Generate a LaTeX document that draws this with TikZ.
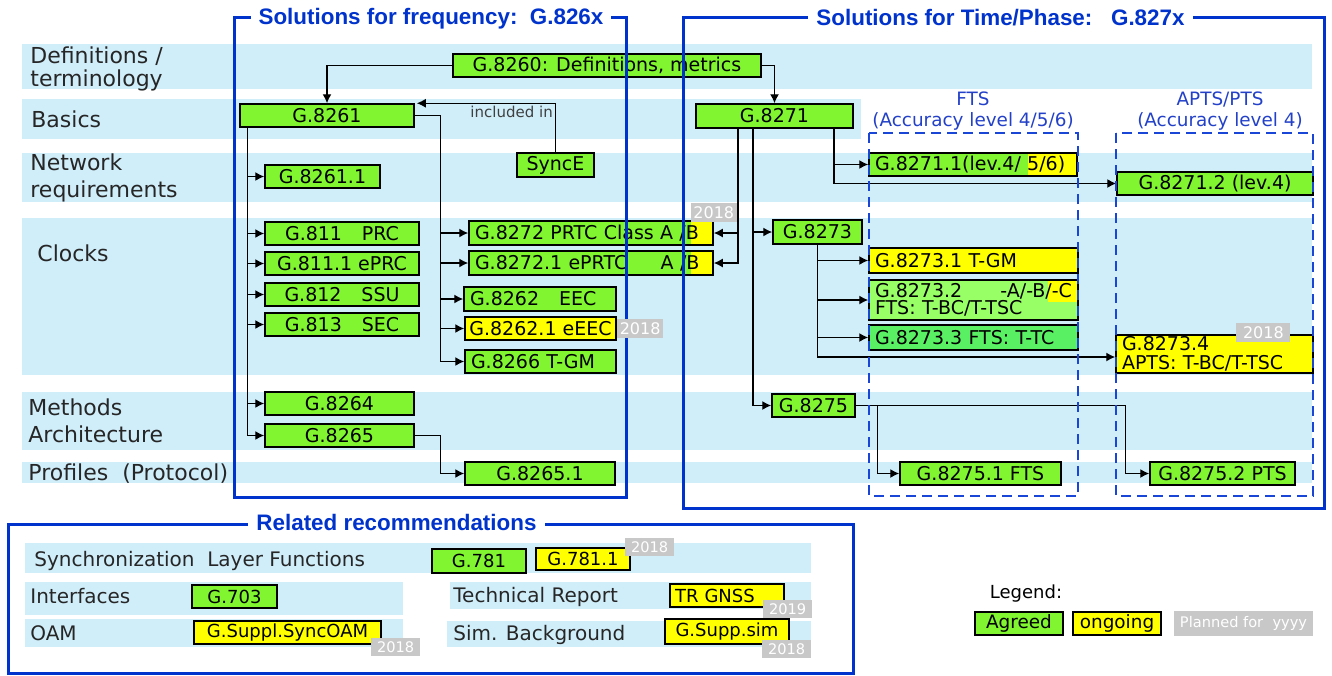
\documentclass[tikz,border=0pt]{standalone}
\usepackage{fontspec}
\setmainfont{DejaVu Sans}
\newfontfamily\titlefamily{Liberation Sans}
\usetikzlibrary{arrows.meta,positioning}

\definecolor{agreedgreen}{RGB}{128,245,48}
\definecolor{ongoingyellow}{RGB}{255,255,0}
\definecolor{bcgreen}{RGB}{153,255,102}
\definecolor{tcgreen}{RGB}{90,240,100}
\definecolor{taggray}{RGB}{200,200,200}
\definecolor{bandblue}{RGB}{208,238,250}
\definecolor{frameblue}{RGB}{0,51,204}
\definecolor{dashblue}{RGB}{25,70,215}
\definecolor{labelblue}{RGB}{35,65,200}

\newcommand{\boxfont}{\fontsize{9.5}{10}\selectfont}
\newcommand{\rowfont}{\fontsize{11}{11.5}\selectfont}
\newcommand{\relfont}{\fontsize{10}{12}\selectfont}
\newcommand{\smallboxfont}{\fontsize{9}{10}\selectfont}
\newcommand{\tagfont}{\fontsize{8}{9}\selectfont}
\newcommand{\rtagfont}{\fontsize{7.3}{8}\selectfont}
\newcommand{\headfont}{\titlefamily\bfseries\fontsize{11.2}{12}\selectfont}
\newcommand{\levelfont}{\fontsize{9.2}{10.5}\selectfont}
\newcommand{\inclfont}{\fontsize{7.5}{8}\selectfont}

\tikzset{
  rec/.style={rectangle, draw=black, line width=0.75pt, inner xsep=3pt, inner ysep=0pt, minimum height=11.5pt, font=\boxfont},
  agreed/.style={rec, fill=agreedgreen},
  ongoing/.style={rec, fill=ongoingyellow},
  lbox/.style={text width=#1, align=left},
  ypatch/.style={path picture={\fill[ongoingyellow] ([xshift=-#1]path picture bounding box.north east) rectangle (path picture bounding box.south east);}},
  cpatch/.style={path picture={\fill[ongoingyellow] ([xshift=-15pt]path picture bounding box.north east) rectangle ([yshift=-11pt]path picture bounding box.north east);}},
  tag/.style={rectangle, fill=taggray, text=white, inner sep=0pt, minimum width=23pt, minimum height=9.5pt, font=\tagfont},
  rtag/.style={tag, minimum width=24.5pt, minimum height=8.75pt, font=\rtagfont},
  band/.style={fill=bandblue},
  frame/.style={draw=frameblue, line width=1.5pt},
  head/.style={fill=white, text=frameblue, inner xsep=4pt, inner ysep=1pt, text height=8pt, text depth=0pt, font=\headfont},
  fts/.style={draw=dashblue, line width=1.2pt, dash pattern=on 5pt off 3pt},
  level/.style={text=labelblue, font=\levelfont, align=center},
  rowlabel/.style={anchor=west, inner sep=0pt, align=left, font=\rowfont, text=black!85},
  rellabel/.style={anchor=west, inner sep=0pt, font=\relfont, text=black!85},
  link/.style={->, >={Latex[length=4.5pt,width=4.5pt]}, line width=0.7pt},
  incl/.style={font=\inclfont, text=black!75, inner sep=1pt},
}

\begin{document}
\begin{tikzpicture}[x=0.5pt, y=-0.5pt]
\useasboundingbox (0,0) rectangle (1332,675);

% row bands
\foreach \ya/\yb in {44/89,153/202,218/375,392/450,462/483}
  \fill[band] (22,\ya) rectangle (1312,\yb);
\fill[band] (22,99) rectangle (861,139);
\fill[band] (25,543) rectangle (811,573);
\fill[band] (25,582) rectangle (403,615);
\fill[band] (450,582) rectangle (811,609);
\fill[band] (25,619) rectangle (403,647);
\fill[band] (447,621) rectangle (811,647);

\node[rowlabel] (rdef) at (30,69) {Definitions /\\terminology};
\node[rowlabel] (rbas) at (31,119.6) {Basics};
\node[rowlabel] (rnet) at (30,178) {Network\\[2pt]requirements};
\node[rowlabel] (rclk) at (37,253.6) {Clocks};
\node[rowlabel] (rmeth) at (28,420.5) {Methods\\[2pt]Architecture};
\node[rowlabel] (rprof) at (28,474) {Profiles\ \ (Protocol)};

% frequency
\node[agreed, minimum width=154pt] (G8260) at (607,65.5) {G.8260: Definitions, metrics};
\node[agreed, minimum width=87pt] (G8261) at (327,115.5) {G.8261};
\node[agreed, minimum width=38.5pt, minimum height=12pt] (SyncE) at (555.5,165) {SyncE};
\node[agreed, minimum width=57.5pt] (G82611) at (322.5,176.5) {G.8261.1};
\node[agreed, minimum width=77pt] (G811) at (342,233.5) {G.811\hspace{1.05em}PRC};
\node[agreed, minimum width=77pt] (G8111) at (342,263.5) {G.811.1 ePRC};
\node[agreed, minimum width=77pt] (G812) at (342,294.5) {G.812\hspace{1.05em}SSU};
\node[agreed, minimum width=77pt] (G813) at (342,324.5) {G.813\hspace{1.05em}SEC};
\node[agreed, minimum width=74.5pt] (G8264) at (339.5,403.5) {G.8264};
\node[agreed, minimum width=74.5pt] (G8265) at (339.5,435.5) {G.8265};
\node[agreed, minimum width=75pt] (G82651) at (540,473.5) {G.8265.1};
\node[agreed, lbox=70pt, minimum height=12pt] (G8262) at (540,299) {\mbox{G.8262\hspace{1.05em}EEC}};
\node[ongoing, minimum width=75.5pt, inner xsep=1pt] (G82621) at (540.5,328.5) {G.8262.1 eEEC};
\node[agreed, lbox=69.5pt] (G8266) at (540.5,361.5) {\mbox{G.8266 T-GM}};
\node[agreed, lbox=116pt, minimum height=12pt, ypatch=11pt] (G8272) at (591,233) {\mbox{G.8272 PRTC Class A /B}};
\node[agreed, lbox=116pt, minimum height=12pt, ypatch=11pt] (G82721) at (591,263) {\mbox{G.8272.1 ePRTC\hspace{1.76em}A /B}};

% time / phase
\node[agreed, minimum width=78.5pt, minimum height=12pt] (G8271) at (774.5,116) {G.8271};
\node[agreed, minimum width=44.5pt, minimum height=12pt] (G8273) at (817.5,232) {G.8273};
\node[agreed, lbox=98pt, ypatch=24.5pt] (G82711) at (973,164.5) {\mbox{G.8271.1(lev.4/ 5/6)}};
\node[agreed, minimum width=98pt] (G82712) at (1215,183.5) {G.8271.2 (lev.4)};
\node[ongoing, lbox=98.5pt, minimum height=12.5pt] (G82731) at (973.5,260.5) {\mbox{G.8273.1 T-GM}};
\node[rec, fill=bcgreen, cpatch, lbox=98.5pt, minimum height=20pt, font=\fontsize{9.5}{8.5}\selectfont] (G82732) at (973.5,300) {\mbox{G.8273.2}\hfill\mbox{-A/-B/-C}\\\mbox{FTS: T-BC/T-TSC}};
\node[rec, fill=tcgreen, lbox=98.5pt, minimum height=12.5pt] (G82733) at (973.5,337.5) {\mbox{G.8273.3 FTS: T-TC}};
\node[ongoing, lbox=92.5pt, minimum height=19pt, font=\fontsize{9.5}{9.5}\selectfont] (G82734) at (1214.5,354) {\mbox{G.8273.4}\\\mbox{APTS: T-BC/T-TSC}};
\node[agreed, minimum width=41.5pt] (G8275) at (813.5,405.5) {G.8275};
\node[agreed, minimum width=80.5pt] (G82751) at (980.5,473.5) {G.8275.1 FTS};
\node[agreed, minimum width=72.5pt] (G82752) at (1222.5,473.5) {G.8275.2 PTS};

% connectors
\draw[link] (G8260.west) -| (G8261.north);
\draw[link] (G8260.east) -| (G8271.north);
\draw[link] (SyncE.north) |- ([xshift=1pt]G8261.north east) node[pos=0.5, below left, incl] {included in};
\foreach \n in {G82611,G811,G8111,G812,G813,G8264,G8265}
  \draw[link] ([xshift=4pt]G8261.south west) |- (\n.west);
\foreach \n in {G8272,G82721,G8262,G82621,G8266}
  \draw[link] (G8261.east) -- ++(26,0) |- (\n.west);
\draw[link] (G8265.east) -- ++(26,0) |- (G82651.west);
\foreach \n in {G8272,G82721}
  \draw[link] ([xshift=-18.25pt]G8271.south) |- (\n.east);
\foreach \n in {G8273,G8275}
  \draw[link] ([xshift=-10.75pt]G8271.south) |- (\n.west);
\foreach \n in {G82711,G82712}
  \draw[link] ([xshift=29.75pt]G8271.south) |- (\n.west);
\foreach \n in {G82731,G82732,G82733}
  \draw[link] (G8273.south) |- (\n.west);
\draw[link] (G8273.south) |- ([yshift=-1.5pt]G82734.west);
\draw[link] (G8275.east) -- ++(22,0) |- (G82751.west);
\draw[link] (G8275.east) -- ++(270,0) |- (G82752.west);

% frames
\draw[frame] (234,17) rectangle (626,497);
\node[head] (freqhead) at (431,16) {Solutions for frequency:\ \ G.826x};
\draw[frame] (683,17) rectangle (1324,508);
\node[head] (timehead) at (1000.5,17) {Solutions for Time/Phase:\ \ \ G.827x};
\draw[frame] (8,524) rectangle (853,673);
\node[head] (relhead) at (396.5,522) {Related recommendations};

\draw[fts] (869,133) rectangle (1078,496);
\draw[fts] (1116,133) rectangle (1313,496);
\node[level] (ftslabel) at (973,111) {FTS\\(Accuracy level 4/5/6)};
\node[level] (aptslabel) at (1220,111) {APTS/PTS\\(Accuracy level 4)};

% related recommendations
\node[rellabel] (rsync) at (34,561) {Synchronization\ \ Layer Functions};
\node[rellabel] (rintf) at (30,596) {Interfaces};
\node[rellabel] (roam) at (30,633) {OAM};
\node[rellabel] (rtech) at (453,597) {Technical Report};
\node[rellabel] (rsim) at (453,635) {Sim. Background};
\node[agreed, font=\smallboxfont, minimum width=47pt, minimum height=12pt] (G781) at (479,561) {G.781};
\node[ongoing, font=\smallboxfont, minimum width=47pt, minimum height=11pt] (G7811) at (583,559) {G.781.1};
\node[agreed, font=\smallboxfont, minimum width=42.5pt] (G703) at (234.5,596.5) {G.703};
\node[ongoing, font=\smallboxfont, inner xsep=2.5pt, lbox=52pt] (TRGNSS) at (727,595.5) {\mbox{TR GNSS}};
\node[ongoing, font=\smallboxfont, minimum width=93.5pt] (GSyncOAM) at (287.5,632.5) {G.Suppl.SyncOAM};
\node[ongoing, font=\smallboxfont, minimum width=62pt, minimum height=12.5pt] (GSuppsim) at (727,631.5) {G.Supp.sim};

% legend
\node[inner sep=0pt, font=\fontsize{9}{10}\selectfont] (legend) at (1026,594) {Legend:};
\node[agreed, font=\fontsize{9.2}{10}\selectfont, minimum width=44pt] (lgagreed) at (1019,623.5) {Agreed};
\node[ongoing, font=\fontsize{9.2}{10}\selectfont, minimum width=44pt] (lgongoing) at (1117,623.5) {ongoing};
\node[tag, font=\rtagfont, minimum width=69.5pt, minimum height=12.5pt] (lgplanned) at (1243.5,623.5) {Planned for\ \ yyyy};

% year tags
\node[tag, anchor=south] (tG8272) at ([yshift=-1pt]G8272.north east) {2018};
\node[tag, right=0pt of G82621] (tG82621) {2018};
\node[tag, minimum width=27pt, anchor=south east] (tG82734) at ([xshift=-11.5pt,yshift=-4pt]G82734.north east) {2018};
\node[rtag, anchor=south west] (tG7811) at ([xshift=-3pt,yshift=-4.5pt]G7811.north east) {2018};
\node[rtag, anchor=north west] (tTRGNSS) at ([xshift=-11pt,yshift=4pt]TRGNSS.south east) {2019};
\node[rtag, anchor=north west] (tGSyncOAM) at ([xshift=-5.5pt,yshift=3.5pt]GSyncOAM.south east) {2018};
\node[rtag, anchor=north west] (tGSuppsim) at ([xshift=-14pt,yshift=2.5pt]GSuppsim.south east) {2018};

\end{tikzpicture}
\end{document}
